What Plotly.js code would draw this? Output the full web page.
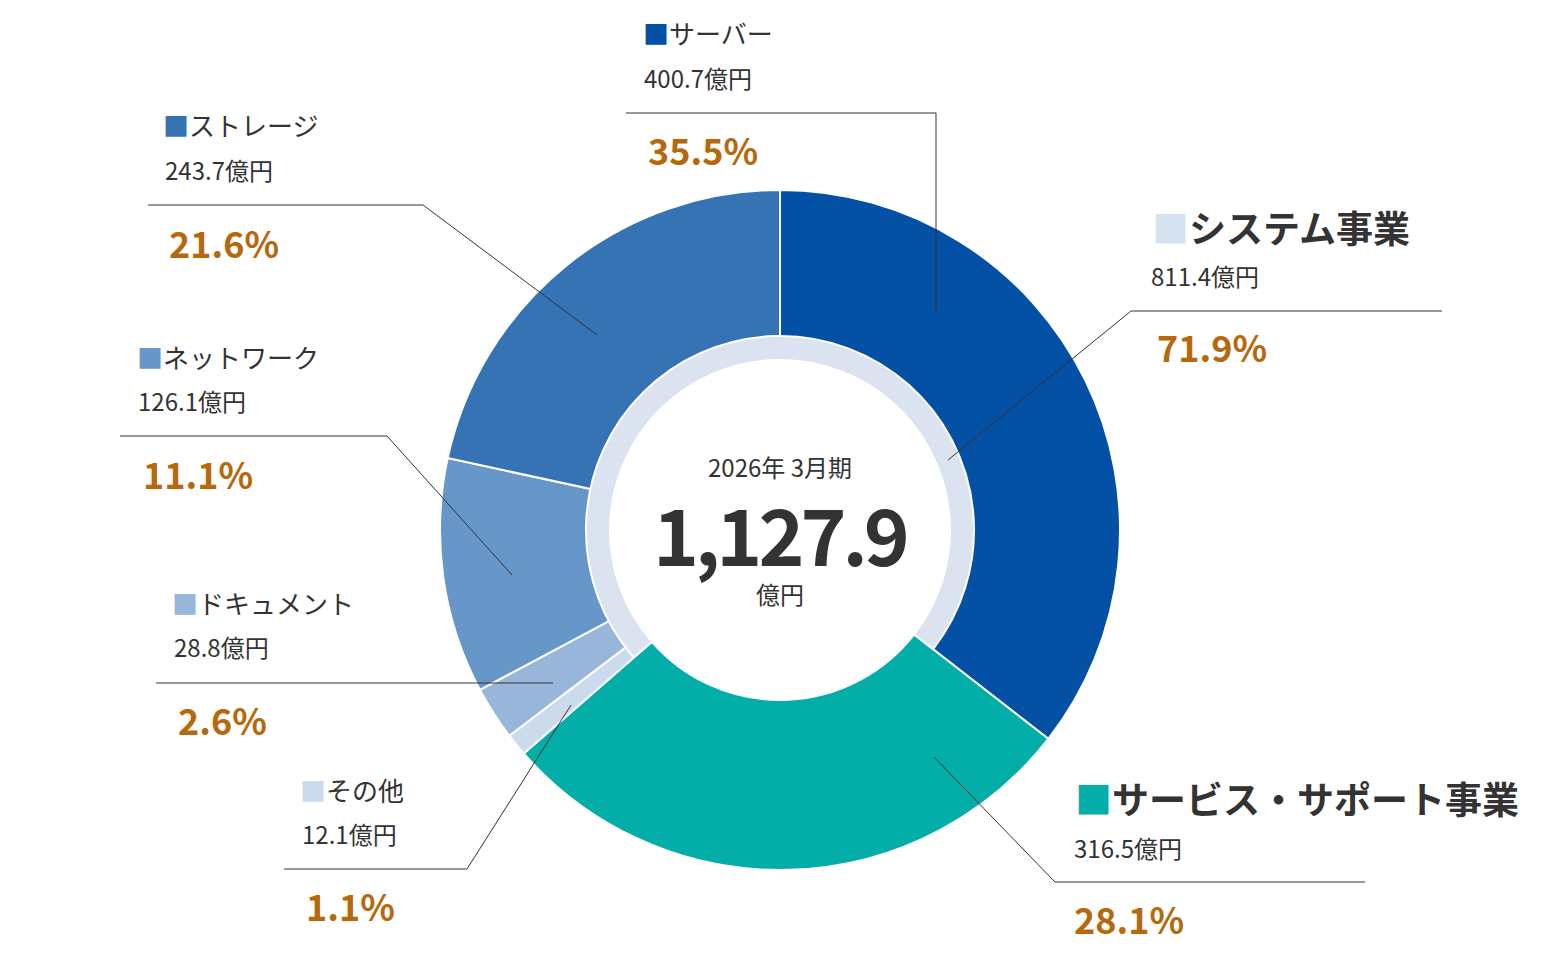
<!DOCTYPE html>
<html><head><meta charset="utf-8">
<script src="https://cdn.plot.ly/plotly-3.0.1.min.js"></script>
<style>html,body{margin:0;padding:0;background:#fff}#chart{width:1560px;height:956px}</style>
</head><body><div id="chart"></div>
<script>
// ---- data ----
const segments = ["サーバー", "サービス・サポート事業", "その他", "ドキュメント", "ネットワーク", "ストレージ"];
const segmentValues = [400.7, 316.5, 12.1, 28.8, 126.1, 243.7];
const segmentShares = [35.5, 28.1, 1.1, 2.6, 11.1, 21.6];
const businesses = ["サービス・サポート事業", "システム事業"];
const businessValues = [316.5, 811.4];
const businessShares = [28.1, 71.9];
const totalValue = 1127.9;
const periodLabel = "2026年 3月期";
const unitLabel = "億円";

// ---- styles ----
const W = 1560, H = 956;
const CX = 780, CY = 530, R_OUT = 340, R_MID = 194, R_IN = 170;
const FONT = "Noto Sans CJK JP, Noto Sans, sans-serif";
const TXT = "#333333";
const PCT = "#b5680c";
const segmentColors = {
  "サーバー": "#0350a4",
  "サービス・サポート事業": "#04aea8",
  "その他": "#cbdbec",
  "ドキュメント": "#97b6da",
  "ネットワーク": "#6797c8",
  "ストレージ": "#3573b5"
};
const businessColors = { "サービス・サポート事業": "rgba(0,0,0,0)", "システム事業": "#dae3ef" };
const squareColors = Object.assign({}, segmentColors, { "システム事業": "#d5e3f0" });

// label placement (pixels): [nameX, nameY, valueX, valueY, pctX, pctY, big]
const labelPos = {
  "サーバー": [641, 33, 642, 77, 646, 149, false],
  "ストレージ": [161, 125, 163, 169, 167, 242, false],
  "ネットワーク": [135, 356, 136, 400, 141, 473, false],
  "ドキュメント": [170, 602, 172, 646, 176, 719, false],
  "その他": [298, 789, 300, 833, 304, 905, false],
  "システム事業": [1150, 227, 1149, 275, 1155, 346, true],
  "サービス・サポート事業": [1073, 798, 1072, 847, 1072, 918, true]
};
const leaderPaths = [
  [[626,113],[936,113],[936,311]],
  [[1442,311],[1131,311],[948,460]],
  [[148,205],[423,205],[597,335]],
  [[120,436],[387,436],[512,575]],
  [[156,683],[553,683]],
  [[284,869],[467,869],[571,705]],
  [[934,757],[1055,882],[1365,882]]
];

const px = x => x / W;
const py = y => 1 - y / H;

const outer = {
  type: "pie",
  labels: segments,
  values: segmentValues,
  sort: false,
  direction: "clockwise",
  rotation: 0,
  hole: R_IN / R_OUT,
  marker: { colors: segments.map(s => segmentColors[s]), line: { color: "#ffffff", width: 2 } },
  textinfo: "none",
  hoverinfo: "skip",
  showlegend: false,
  domain: { x: [px(CX - R_OUT), px(CX + R_OUT)], y: [py(CY + R_OUT), py(CY - R_OUT)] }
};
const inner = {
  type: "pie",
  labels: businesses,
  values: businessValues,
  sort: false,
  direction: "clockwise",
  rotation: 360 * segmentValues[0] / totalValue,
  hole: R_IN / R_MID,
  marker: {
    colors: businesses.map(b => businessColors[b]),
    line: { color: "#ffffff", width: businesses.map(b => b === "システム事業" ? 2 : 0) }
  },
  textinfo: "none",
  hoverinfo: "skip",
  showlegend: false,
  domain: { x: [px(CX - R_MID), px(CX + R_MID)], y: [py(CY + R_MID), py(CY - R_MID)] }
};

const annotations = [];
function addLabel(name, value, share) {
  const p = labelPos[name];
  const big = p[6];
  annotations.push({
    x: px(p[0]), y: py(p[1]), xref: "paper", yref: "paper", xanchor: "left", yanchor: "middle",
    showarrow: false,
    text: `<span style="color:${squareColors[name]}">■</span>${big ? "<b>" + name + "</b>" : name}`,
    font: { family: FONT, size: big ? 37 : 26, color: TXT }
  });
  annotations.push({
    x: px(p[2]), y: py(p[3]), xref: "paper", yref: "paper", xanchor: "left", yanchor: "middle",
    showarrow: false, text: value.toFixed(1) + unitLabel,
    font: { family: FONT, size: 24, color: TXT }
  });
  annotations.push({
    x: px(p[4]), y: py(p[5]), xref: "paper", yref: "paper", xanchor: "left", yanchor: "middle",
    showarrow: false, text: "<b>" + share.toFixed(1) + "%</b>",
    font: { family: FONT, size: 36, color: PCT }
  });
}
segments.forEach((s, i) => { if (s !== "サービス・サポート事業") addLabel(s, segmentValues[i], segmentShares[i]); });
businesses.forEach((b, i) => addLabel(b, businessValues[i], businessShares[i]));

annotations.push({ x: px(CX), y: py(466), xref: "paper", yref: "paper", xanchor: "center", yanchor: "middle",
  showarrow: false, text: periodLabel, font: { family: FONT, size: 24, color: TXT } });
annotations.push({ x: px(CX), y: py(532), xref: "paper", yref: "paper", xanchor: "center", yanchor: "middle",
  showarrow: false,
  text: '<b><span style="letter-spacing:-4px">' + totalValue.toLocaleString("en-US", { minimumFractionDigits: 1 }) + "</span></b>",
  font: { family: FONT, size: 78, color: TXT } });
annotations.push({ x: px(CX), y: py(593), xref: "paper", yref: "paper", xanchor: "center", yanchor: "middle",
  showarrow: false, text: unitLabel, font: { family: FONT, size: 24, color: TXT } });

const shapes = leaderPaths.map(pts => ({
  type: "path", xref: "paper", yref: "paper",
  path: pts.map((p, i) => (i ? "L" : "M") + px(p[0]) + "," + py(p[1])).join(" "),
  line: { color: "#333333", width: 1 }
}));

Plotly.newPlot("chart", [outer, inner], {
  width: W, height: H,
  margin: { l: 0, r: 0, t: 0, b: 0 },
  paper_bgcolor: "#ffffff",
  plot_bgcolor: "#ffffff",
  showlegend: false,
  annotations: annotations,
  shapes: shapes
}, { staticPlot: true, displayModeBar: false });
</script></body></html>
